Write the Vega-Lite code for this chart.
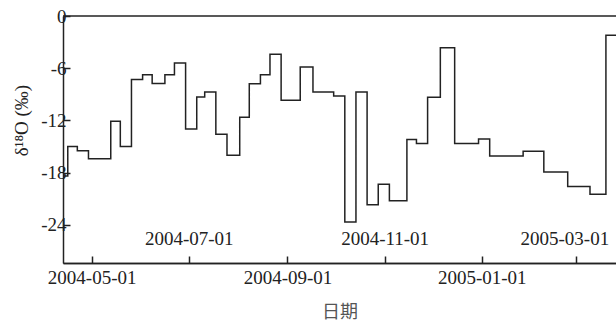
{
  "$schema": "https://vega.github.io/schema/vega-lite/v6.json",
  "width": 553,
  "height": 247,
  "autosize": {"type": "none"},
  "padding": {"left": 63, "top": 16, "right": 0, "bottom": 60},
  "background": "white",
  "config": {"view": {"stroke": null}, "font": "Liberation Serif"},
  "data": {"values": [
    {"date": "2004-04-13", "d18O": -18.4},
    {"date": "2004-04-16", "d18O": -15.0},
    {"date": "2004-04-22", "d18O": -15.5},
    {"date": "2004-04-29", "d18O": -16.4},
    {"date": "2004-05-13", "d18O": -12.1},
    {"date": "2004-05-19", "d18O": -15.0},
    {"date": "2004-05-26", "d18O": -7.3},
    {"date": "2004-06-02", "d18O": -6.75},
    {"date": "2004-06-08", "d18O": -7.75},
    {"date": "2004-06-16", "d18O": -6.75},
    {"date": "2004-06-22", "d18O": -5.4},
    {"date": "2004-06-29", "d18O": -13.0},
    {"date": "2004-07-06", "d18O": -9.3},
    {"date": "2004-07-11", "d18O": -8.75},
    {"date": "2004-07-18", "d18O": -13.6},
    {"date": "2004-07-25", "d18O": -16.0},
    {"date": "2004-08-02", "d18O": -11.65},
    {"date": "2004-08-08", "d18O": -7.8},
    {"date": "2004-08-15", "d18O": -6.75},
    {"date": "2004-08-21", "d18O": -4.4},
    {"date": "2004-08-28", "d18O": -9.7},
    {"date": "2004-09-09", "d18O": -5.85},
    {"date": "2004-09-17", "d18O": -8.75},
    {"date": "2004-09-30", "d18O": -9.2},
    {"date": "2004-10-07", "d18O": -23.7},
    {"date": "2004-10-14", "d18O": -8.75},
    {"date": "2004-10-21", "d18O": -21.7},
    {"date": "2004-10-28", "d18O": -19.35},
    {"date": "2004-11-04", "d18O": -21.25},
    {"date": "2004-11-15", "d18O": -14.2},
    {"date": "2004-11-21", "d18O": -14.65},
    {"date": "2004-11-28", "d18O": -9.35},
    {"date": "2004-12-06", "d18O": -3.65},
    {"date": "2004-12-15", "d18O": -14.65},
    {"date": "2004-12-30", "d18O": -14.15},
    {"date": "2005-01-06", "d18O": -16.1},
    {"date": "2005-01-27", "d18O": -15.55},
    {"date": "2005-02-09", "d18O": -17.95},
    {"date": "2005-02-24", "d18O": -19.6},
    {"date": "2005-03-10", "d18O": -20.5},
    {"date": "2005-03-20", "d18O": -2.2},
    {"date": "2005-03-27", "d18O": -2.2}
  ]},
  "resolve": {"axis": {"x": "independent"}},
  "layer": [
    {
      "mark": {"type": "line", "interpolate": "step-after", "color": "#222", "strokeWidth": 1.5, "clip": true},
      "encoding": {
        "x": {
          "field": "date", "type": "temporal",
          "scale": {"type": "utc", "domain": [{"year": 2004, "month": 4, "date": 13, "utc": true}, {"year": 2005, "month": 3, "date": 26, "hours": 8, "utc": true}]},
          "axis": {
            "orient": "bottom",
            "values": [
              {"year": 2004, "month": 5, "date": 1, "utc": true},
              {"year": 2004, "month": 9, "date": 1, "utc": true},
              {"year": 2005, "month": 1, "date": 1, "utc": true}
            ],
            "format": "%Y-%m-%d",
            "grid": false,
            "tickSize": -7, "tickColor": "#222", "tickWidth": 1.5,
            "domainColor": "#222", "domainWidth": 1.5,
            "labelFont": "Liberation Serif", "labelFontSize": 19, "labelColor": "#222",
            "labelPadding": 12, "labelAngle": 0, "labelOverlap": false, "labelFlush": false,
            "title": "日期", "titleFont": "Noto Sans CJK SC", "titleFontSize": 18, "titleFontWeight": "normal",
            "titleColor": "#555", "titleY": 49, "titleBaseline": "middle"
          }
        },
        "y": {
          "field": "d18O", "type": "quantitative",
          "scale": {"domain": [-28.4, 0], "nice": false, "zero": false},
          "axis": {
            "values": [0, -6, -12, -18, -24],
            "labelExpr": "replace(datum.label, '−', '-')",
            "grid": false,
            "tickSize": -7, "tickColor": "#222", "tickWidth": 1.5,
            "domainColor": "#222", "domainWidth": 1.5,
            "labelFont": "Liberation Serif", "labelFontSize": 19, "labelColor": "#222",
            "labelPadding": 4,
            "title": "δ¹⁸O (‰)", "titleFont": "Liberation Serif", "titleFontSize": 19, "titleFontWeight": "normal",
            "titleColor": "#222", "titleAngle": -90, "titleX": -42, "titleY": 104,
            "titleAlign": "center", "titleBaseline": "middle"
          }
        }
      }
    },
    {
      "mark": {"type": "line", "interpolate": "step-after", "strokeOpacity": 0, "clip": true},
      "encoding": {
        "x": {
          "field": "date", "type": "temporal",
          "axis": {
            "orient": "bottom",
            "values": [
              {"year": 2004, "month": 7, "date": 1, "utc": true},
              {"year": 2004, "month": 11, "date": 1, "utc": true},
              {"year": 2005, "month": 3, "date": 1, "utc": true}
            ],
            "format": "%Y-%m-%d",
            "grid": false,
            "tickSize": -7, "tickColor": "#222", "tickWidth": 1.5,
            "domainColor": "#222", "domainWidth": 1.5,
            "labelFont": "Liberation Serif", "labelFontSize": 19, "labelColor": "#222",
            "labelBaseline": "alphabetic",
            "labelPadding": -12, "labelAngle": 0, "labelOverlap": false,
            "labelFlush": 50, "labelFlushOffset": 33,
            "title": null
          }
        },
        "y": {"field": "d18O", "type": "quantitative"}
      }
    },
    {
      "data": {"values": [{}]},
      "mark": {"type": "rule", "color": "#222", "strokeWidth": 1.5},
      "encoding": {"y": {"datum": 0, "type": "quantitative"}}
    }
  ]
}
